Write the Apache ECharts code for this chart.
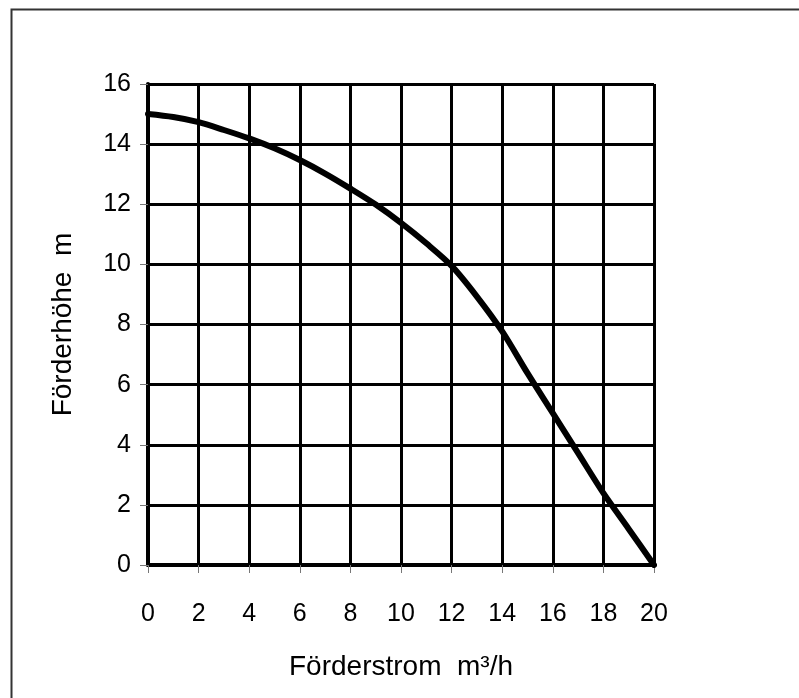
<!DOCTYPE html>
<html>
<head>
<meta charset="utf-8">
<script src="https://cdn.jsdelivr.net/npm/echarts@6/dist/echarts.min.js"></script>
<style>html,body{margin:0;padding:0;background:#fff;}#c{width:799px;height:698px;}</style>
</head>
<body>
<div id="c"></div>
<script>
const flowValues = [0,1,2,3,4,5,6,7,8,9,10,11,12,13,14,15,16,17,18,19,20];
const headValues = [15.0,14.9,14.73,14.47,14.19,13.86,13.47,13.02,12.52,11.99,11.38,10.7,9.95,8.93,7.77,6.38,5.05,3.72,2.39,1.2,0];
const xAxisTitle = 'Förderstrom  m³/h';
const yAxisTitle = 'Förderhöhe  m';

const chart = echarts.init(document.getElementById('c'), null, {renderer:'canvas'});
const font = '"Liberation Sans", Arial, sans-serif';
chart.setOption({
  backgroundColor: '#fff',
  animation: false,
  graphic: [{
    type: 'rect', left: 9, top: 7, z: 100,
    shape: {x: 0, y: 0, width: 800, height: 700},
    style: {fill: 'none', stroke: '#333', lineWidth: 2}
  }],
  grid: {left: 148, top: 84, right: 145, bottom: 133, containLabel: false},
  xAxis: {
    type: 'value', min: 0, max: 20, interval: 2,
    name: xAxisTitle, nameLocation: 'middle', nameGap: 88,
    nameTextStyle: {fontFamily: font, fontSize: 28, color: '#000'},
    axisLine: {show: true, onZero: false, lineStyle: {color: '#000', width: 4}},
    axisTick: {show: true, length: 8, lineStyle: {color: '#777', width: 1}},
    axisLabel: {fontFamily: font, fontSize: 25, color: '#000', margin: 37},
    splitLine: {show: true, lineStyle: {color: '#000', width: 3}}
  },
  yAxis: {
    type: 'value', min: 0, max: 16, interval: 2,
    name: yAxisTitle, nameLocation: 'middle', nameGap: 71, nameRotate: 90,
    nameTextStyle: {fontFamily: font, fontSize: 28, color: '#000'},
    axisLine: {show: true, onZero: false, lineStyle: {color: '#000', width: 4}},
    axisTick: {show: true, length: 8, lineStyle: {color: '#777', width: 1}},
    axisLabel: {fontFamily: font, fontSize: 25, color: '#000', margin: 17},
    splitLine: {show: true, lineStyle: {color: '#000', width: 3}}
  },
  series: [{
    type: 'line',
    data: flowValues.map((x, i) => [x, headValues[i]]),
    smooth: 0.3,
    showSymbol: false,
    symbol: 'none',
    lineStyle: {color: '#000', width: 6, cap: 'round', join: 'round'},
    z: 10
  }]
});
</script>
</body>
</html>
